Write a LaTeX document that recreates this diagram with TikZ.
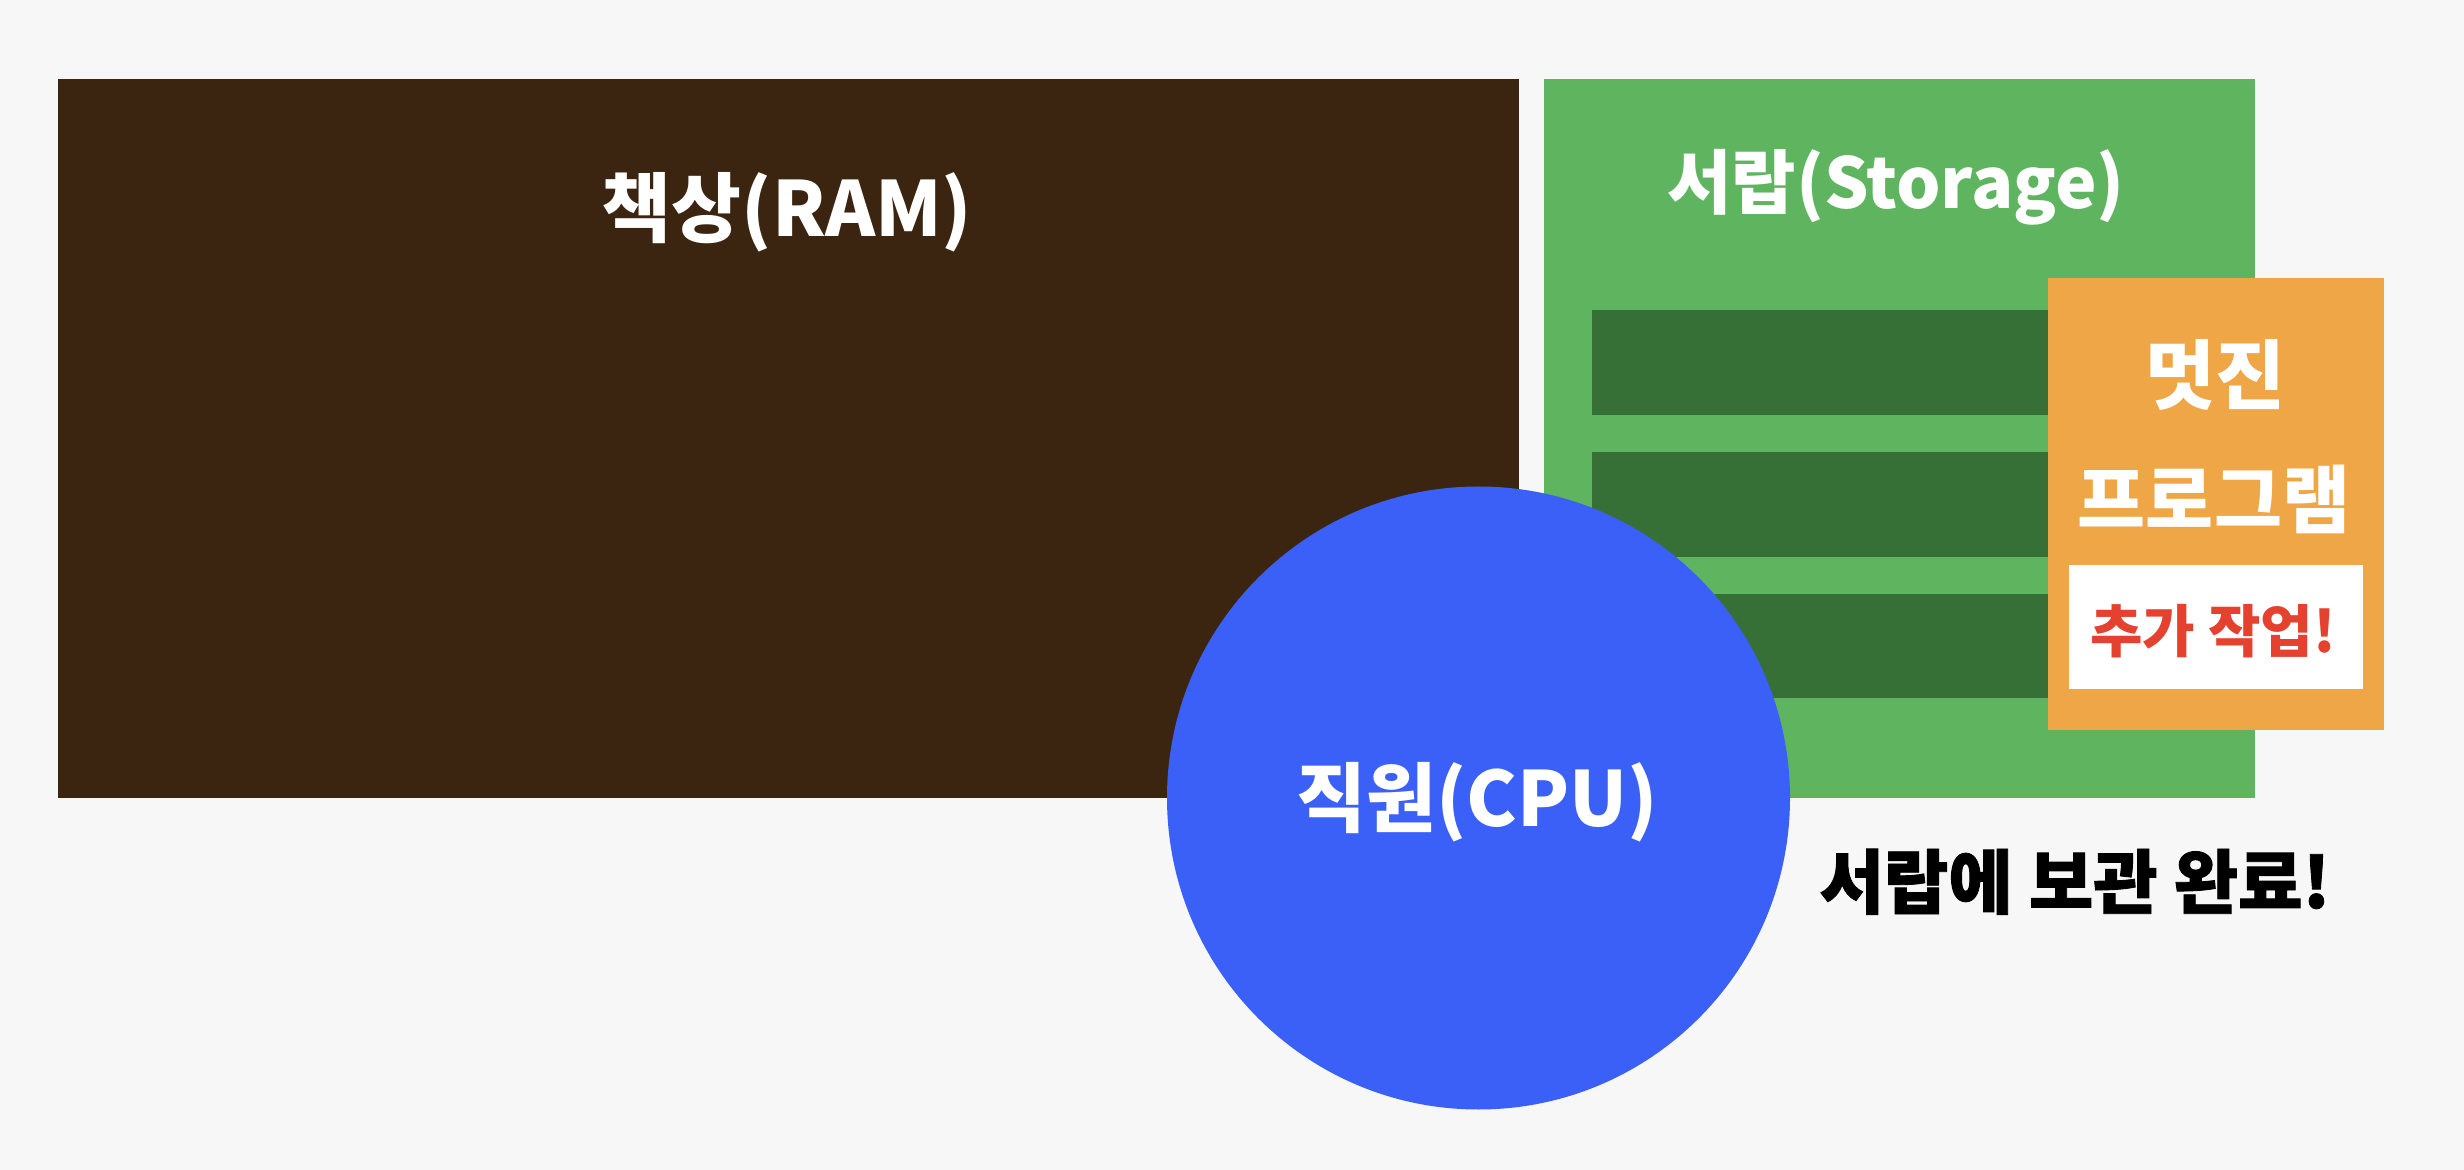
\documentclass[tikz,border=0pt]{standalone}
\usepackage{fontspec}
\setmainfont{Noto Sans CJK KR}[BoldFont={* Bold}]
\newfontfamily\krfont{Noto Sans CJK KR}
\definecolor{bgc}{HTML}{F7F7F7}
\definecolor{deskc}{HTML}{3B2410}
\definecolor{drawerc}{HTML}{5FB55F}
\definecolor{stripec}{HTML}{367036}
\definecolor{progc}{HTML}{EFA646}
\definecolor{cpuc}{HTML}{3B60F7}
\definecolor{redc}{HTML}{E5412F}
\begin{document}
\begin{tikzpicture}[x=0.5pt,y=-0.5pt,
  title/.style={text=white,font=\krfont\bfseries\fontsize{38}{42}\selectfont,inner sep=0pt,anchor=base},
  stripe/.style={fill=stripec,draw=none}]
\fill[bgc] (0,0) rectangle (2464,1170);
\useasboundingbox (0,0) rectangle (2464,1170);
% desk (RAM)
\fill[deskc] (58,79) rectangle (1519,798);
\node[title] (ram) at (787,237) {책상(RAM)};
% drawer (Storage)
\fill[drawerc] (1544,79) rectangle (2255,798);
\node[title,font=\krfont\bfseries\fontsize{35}{40}\selectfont] (storage) at (1896,209) {서랍(Storage)};
\fill[stripe] (1592,310) rectangle (2200,415);
\fill[stripe] (1592,452) rectangle (2200,557);
\fill[stripe] (1592,594) rectangle (2200,698);
% program box
\fill[progc] (2048,278) rectangle (2384,730);
\node[title,font=\krfont\bfseries\fontsize{38}{42}\selectfont] (p1) at (2215,404) {멋진};
\node[title,font=\krfont\bfseries\fontsize{37}{42}\selectfont] (p2) at (2214,528) {프로그램};
\fill[white] (2069,565) rectangle (2363,689);
\node[text=redc,font=\krfont\bfseries\fontsize{28.5}{32}\selectfont,inner sep=0pt,anchor=base] (extra) at (2213,653) {추가 작업!};
% CPU circle
\fill[cpuc] (1478.5,798) circle[radius=311.5];
\node[title] (cpu) at (1477,826) {직원(CPU)};
% done label
\node[text=black,font=\krfont\bfseries\fontsize{35}{40}\selectfont\addfontfeature{FakeBold=1.2},inner sep=0pt,anchor=base] (done) at (2075,908) {서랍에 보관 완료!};
\end{tikzpicture}
\end{document}
